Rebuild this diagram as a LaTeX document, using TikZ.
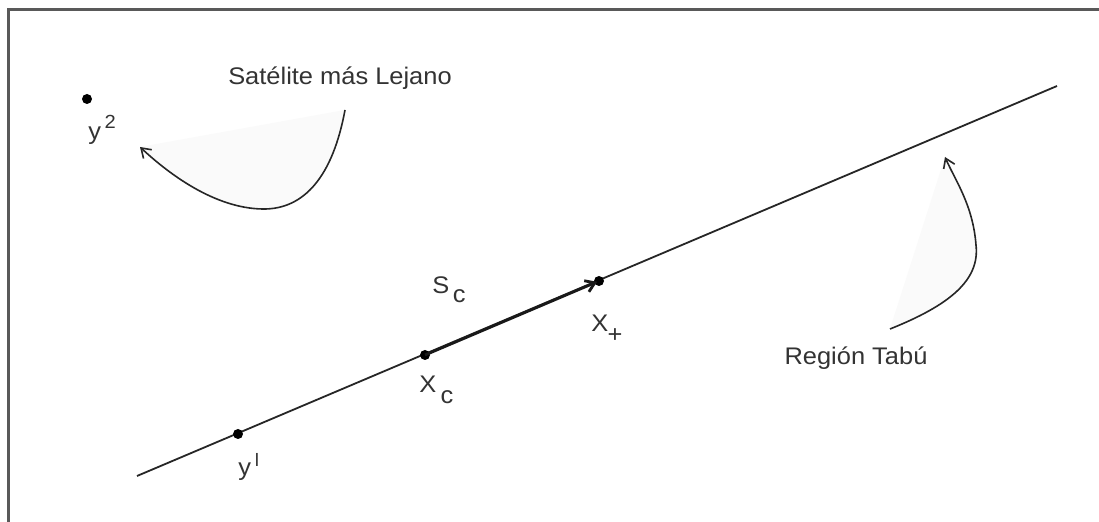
\documentclass[tikz,border=0pt]{standalone}
\usepackage{fontspec}
\setmainfont{Liberation Sans}
\usetikzlibrary{arrows.meta}
\newcommand\hs[1]{\scalebox{1.06}[1]{#1}}
\tikzset{
  dot/.style={circle, fill=black, inner sep=0pt, minimum size=5pt},
  lbl/.style={inner sep=0pt, font=\fontsize{12}{14}\selectfont, text=black!80},
  mainline/.style={line width=0.9pt, black!85},
  curvearrow/.style={line width=0.8pt, black!85, -{Straight Barb[length=4.5pt,width=6pt]}},
  shade/.style={fill=black!2, draw=none},
}
\begin{document}
\begin{tikzpicture}[x=0.5pt,y=-0.5pt]
\fill[white] (0,0) rectangle (1099,522);
\useasboundingbox (0,0) rectangle (1099,522);
% frame
\draw[line width=1.5pt, black!65] (8.5,530) -- (8.5,9.5) -- (1110,9.5);
% main line
\coordinate (la) at (137,476);
\coordinate (lb) at (1057,86);
\draw[mainline] (la) -- (lb);
% points
\node[dot] (yl) at (238,434) {};
\node[dot] (xc) at (425,355) {};
\node[dot] (xp) at (599,281) {};
\node[dot] (y2) at (87,99) {};
% step arrow
\draw[line width=1.4pt, black!90, -{Straight Barb[length=4.5pt,width=6pt]}, shorten >=1pt] (xc.center) -- (xp.center);
% labels
\node[lbl, anchor=base west] (ly2) at (88,140) {\hs{y\kern1.6pt\raisebox{5.5pt}{\fontsize{9.5}{10}\selectfont 2}}};
\node[lbl, anchor=base west] (lyl) at (238,476) {\hs{y\kern1.8pt\raisebox{4.5pt}{\fontsize{9}{9}\selectfont l}}};
\node[lbl, anchor=base west] (lxc) at (419,393) {\hs{X\kern2pt\raisebox{-5.5pt}{c}}};
\node[lbl, anchor=base west] (lsc) at (432,294) {\hs{S\kern1.6pt\raisebox{-4.5pt}{c}}};
\node[lbl, anchor=base west] (lxp) at (591,332) {\hs{X\kern-0.3pt\raisebox{-5.2pt}{+}}};
\node[lbl, anchor=base] (sat) at (340,85) {\hs{Satélite más Lejano}};
\node[lbl, anchor=base] (tabu) at (856,365) {\hs{Región Tabú}};
% far satellite curve
\coordinate (s1) at (345,110);
\coordinate (s2) at (262,209);
\coordinate (s3) at (140,147);
\path[shade] (s1) .. controls (333,175) and (305,210) .. (s2) .. controls (215,208) and (170,175) .. (s3) -- cycle;
\draw[curvearrow] (s1) .. controls (333,175) and (305,210) .. (s2) .. controls (215,208) and (170,175) .. (s3);
% tabu region curve
\coordinate (t1) at (890,329);
\coordinate (t2) at (976,245);
\coordinate (t3) at (945,157);
\path[shade] (t1) .. controls (950,305) and (980,280) .. (t2) .. controls (973,205) and (955,180) .. (t3) -- cycle;
\draw[curvearrow] (t1) .. controls (950,305) and (980,280) .. (t2) .. controls (973,205) and (955,180) .. (t3);
\end{tikzpicture}
\end{document}
